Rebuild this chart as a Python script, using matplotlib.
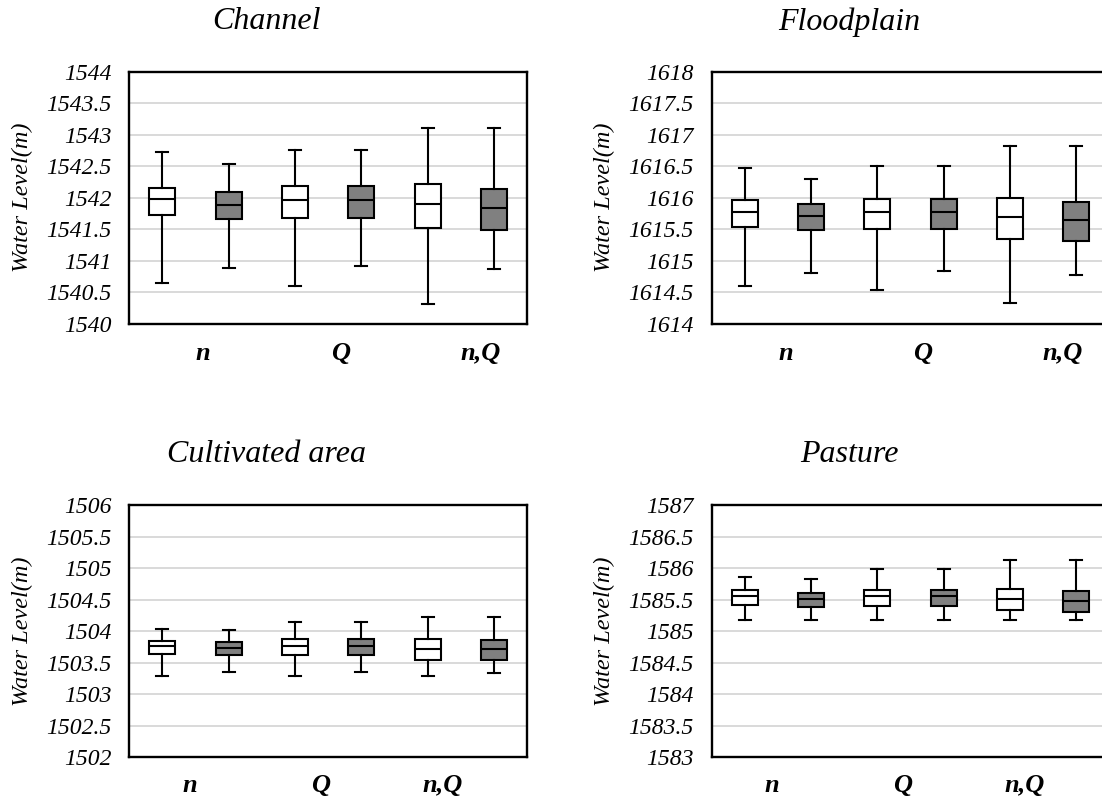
import matplotlib.pyplot as plt

plt.rcParams['font.family'] = 'Liberation Serif'
plt.rcParams['font.style'] = 'italic'

# Panel titles and y ranges
titles = ['Channel', 'Floodplain', 'Cultivated area', 'Pasture']
y_limits = [(1540, 1544), (1614, 1618), (1502, 1506), (1583, 1587)]
groups = ['n', 'Q', 'n,Q']

# box stats per panel, 6 boxes: (n white, n gray, Q white, Q gray, nQ white, nQ gray)
channel_low = [1540.65, 1540.89, 1540.60, 1540.92, 1540.32, 1540.87]
channel_q1 = [1541.72, 1541.66, 1541.68, 1541.68, 1541.52, 1541.48]
channel_med = [1541.98, 1541.89, 1541.97, 1541.97, 1541.90, 1541.84]
channel_q3 = [1542.16, 1542.09, 1542.18, 1542.18, 1542.22, 1542.13]
channel_high = [1542.72, 1542.53, 1542.75, 1542.75, 1543.10, 1543.10]

flood_low = [1614.60, 1614.80, 1614.54, 1614.83, 1614.33, 1614.78]
flood_q1 = [1615.54, 1615.48, 1615.50, 1615.50, 1615.35, 1615.32]
flood_med = [1615.78, 1615.71, 1615.78, 1615.78, 1615.70, 1615.64]
flood_q3 = [1615.96, 1615.90, 1615.98, 1615.98, 1616.00, 1615.93]
flood_high = [1616.47, 1616.29, 1616.51, 1616.51, 1616.82, 1616.82]

cult_low = [1503.29, 1503.36, 1503.29, 1503.35, 1503.29, 1503.34]
cult_q1 = [1503.64, 1503.62, 1503.62, 1503.62, 1503.54, 1503.54]
cult_med = [1503.76, 1503.74, 1503.77, 1503.77, 1503.72, 1503.71]
cult_q3 = [1503.85, 1503.83, 1503.88, 1503.88, 1503.87, 1503.86]
cult_high = [1504.03, 1504.02, 1504.14, 1504.14, 1504.22, 1504.22]

past_low = [1585.17, 1585.17, 1585.17, 1585.17, 1585.17, 1585.17]
past_q1 = [1585.42, 1585.39, 1585.40, 1585.40, 1585.34, 1585.31]
past_med = [1585.55, 1585.51, 1585.55, 1585.55, 1585.51, 1585.48]
past_q3 = [1585.65, 1585.60, 1585.66, 1585.66, 1585.67, 1585.63]
past_high = [1585.86, 1585.83, 1585.98, 1585.98, 1586.13, 1586.13]

panel_data = [
    (channel_low, channel_q1, channel_med, channel_q3, channel_high),
    (flood_low, flood_q1, flood_med, flood_q3, flood_high),
    (cult_low, cult_q1, cult_med, cult_q3, cult_high),
    (past_low, past_q1, past_med, past_q3, past_high),
]

fills = ['white', '#808080'] * 3

fig = plt.figure(figsize=(11.02, 7.98), dpi=100)

# axes rectangles [left, bottom, width, height] in figure fraction
rects = [
    [0.1173, 0.5944, 0.361, 0.3158],
    [0.6457, 0.5944, 0.361, 0.3158],
    [0.1173, 0.0510, 0.361, 0.3162],
    [0.6457, 0.0510, 0.361, 0.3162],
]
label_x = [[0.186, 0.530, 0.883], [0.186, 0.530, 0.883],
           [0.152, 0.481, 0.788], [0.152, 0.481, 0.788]]
label_y = [-0.117, -0.117, -0.113, -0.113]
title_y = [1.198, 1.198, 1.202, 1.202]

for i in range(4):
    ax = fig.add_axes(rects[i])
    low, q1, med, q3, high = panel_data[i]
    stats = []
    for k in range(6):
        stats.append({'whislo': low[k], 'q1': q1[k], 'med': med[k],
                      'q3': q3[k], 'whishi': high[k], 'fliers': []})
    bp = ax.bxp(stats, positions=range(1, 7), widths=0.39, capwidths=0.18,
                patch_artist=True, showfliers=False,
                boxprops=dict(edgecolor='black', linewidth=1.5),
                medianprops=dict(color='black', linewidth=1.5),
                whiskerprops=dict(color='black', linewidth=1.5),
                capprops=dict(color='black', linewidth=1.5))
    for patch, c in zip(bp['boxes'], fills):
        patch.set_facecolor(c)

    y0, y1 = y_limits[i]
    ax.set_ylim(y0, y1)
    ax.set_xlim(0.5, 6.5)
    ticks = [y0 + 0.5 * j for j in range(9)]
    ax.set_yticks(ticks)
    ax.set_yticklabels(['%g' % t for t in ticks], fontsize=17, style='italic')
    ax.set_xticks([])
    ax.tick_params(axis='y', length=0, pad=13)
    ax.yaxis.grid(True, color='#d9d9d9', linewidth=1.4)
    ax.set_axisbelow(True)
    for sp in ax.spines.values():
        sp.set_linewidth(1.7)

    ax.set_ylabel('Water Level(m)', fontsize=17.5, style='italic')
    ax.yaxis.set_label_coords(-0.242, 0.5)

    ax.text(0.346, title_y[i], titles[i], transform=ax.transAxes,
            fontsize=23, style='italic', ha='center', va='center')
    for g, gx in zip(groups, label_x[i]):
        ax.text(gx, label_y[i], g, transform=ax.transAxes, fontsize=19,
                style='italic', weight='bold', ha='center', va='center')

fig.savefig('out.png', dpi=100)
